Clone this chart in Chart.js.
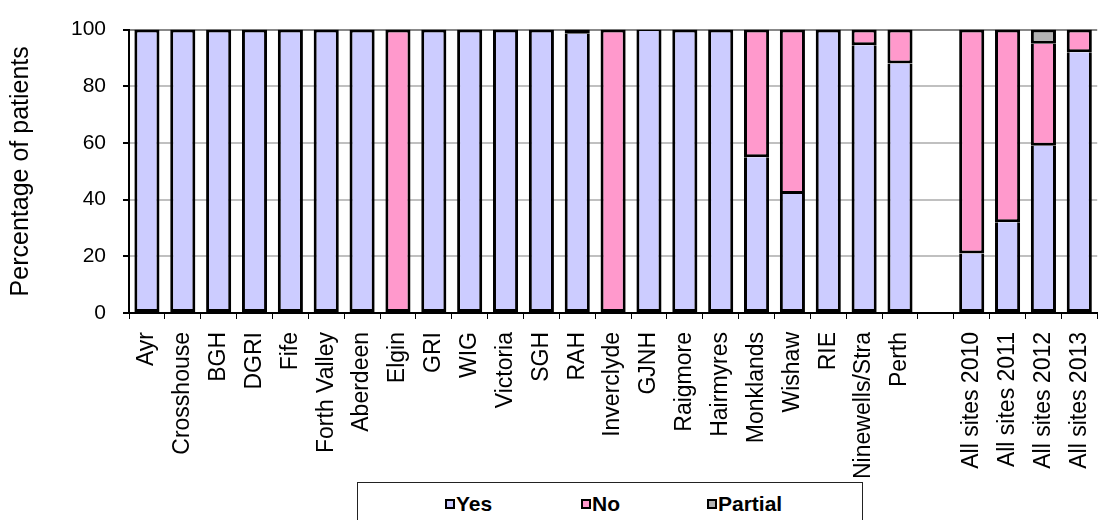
<!DOCTYPE html>
<html>
<head>
<meta charset="utf-8">
<script src="https://cdn.jsdelivr.net/npm/chart.js@4"></script>
<style>
  html, body { margin: 0; padding: 0; background: #fff; overflow: hidden; }
  #wrap { position: relative; width: 1120px; height: 520px; }
  #legend {
    position: absolute; left: 357px; top: 482px; width: 506px; height: 60px;
    border: 1px solid #222; box-sizing: border-box; background: #fff;
    font-family: Arial, "Liberation Sans", sans-serif; font-weight: bold; font-size: 21px;
  }
  #legend .item { position: absolute; top: 9px; line-height: 24px; white-space: nowrap; }
  #legend .box {
    display: inline-block; width: 6px; height: 6px; border: 2px solid #000;
    margin-right: 1px; vertical-align: 2px;
  }
</style>
</head>
<body>
<div id="wrap">
  <canvas id="chart" width="1120" height="520"></canvas>
  <div id="legend"></div>
</div>
<script>
// sites (blank slot separates the yearly totals)
var categories = ['Ayr', 'Crosshouse', 'BGH', 'DGRI', 'Fife', 'Forth Valley', 'Aberdeen', 'Elgin', 'GRI', 'WIG',
    'Victoria', 'SGH', 'RAH', 'Inverclyde', 'GJNH', 'Raigmore', 'Hairmyres', 'Monklands', 'Wishaw', 'RIE',
    'Ninewells/Stra', 'Perth', '', 'All sites 2010', 'All sites 2011', 'All sites 2012', 'All sites 2013'];

var yesData = [100, 100, 100, 100, 100, 100, 100, null, 100, 100,
    100, 100, 98.5, null, 99.5, 100, 100, 55, 42, 100,
    94.5, 88, null, 21, 32, 59, 92];
var noData = [null, null, null, null, null, null, null, 100, null, null,
    null, null, 1.5, 100, 0.5, null, null, 45, 58, null,
    5.5, 12, null, 79, 68, 36, 8];
var partialData = [null, null, null, null, null, null, null, null, null, null,
    null, null, null, null, null, null, null, null, null, null,
    null, null, null, null, null, 5, null];

var yTicks = [0, 20, 40, 60, 80, 100];
var seriesLabels = ['Yes', 'No', 'Partial'];
var seriesColors = ['#ccccff', '#ff99cc', '#b2b2b2'];
var stack = [yesData, noData, partialData];

var font = 'Arial, "Liberation Sans", sans-serif';

// true when some segment sits on top of this one
function hasAbove(i, idx) {
    for (var k = i + 1; k < stack.length; k++) {
        if (stack[k][idx]) return true;
    }
    return false;
}

function makeSet(i, data) {
    return {
        label: seriesLabels[i],
        data: data,
        backgroundColor: seriesColors[i],
        borderColor: '#000',
        // no outline for empty segments, otherwise a stub shows at the base
        borderWidth: function (c) { return c.raw ? 3 : 0; },
        // single dividing line between stacked segments
        borderSkipped: function (c) { return hasAbove(i, c.dataIndex) ? 'top' : false; },
        inflateAmount: 0,
        categoryPercentage: 1,
        barPercentage: 0.7
    };
}

var ctx = document.getElementById('chart').getContext('2d');
var myChart = new Chart(ctx, {
    type: 'bar',
    data: {
        labels: categories,
        datasets: [makeSet(0, yesData), makeSet(1, noData), makeSet(2, partialData)]
    },
    options: {
        responsive: false,
        animation: false,
        layout: { padding: { top: 21, right: 6, bottom: 0, left: 0 } },
        scales: {
            x: {
                stacked: true,
                grid: { drawOnChartArea: false, tickColor: '#000', tickLength: 6, lineWidth: 1 },
                border: { color: '#000', width: 2 },
                ticks: {
                    color: '#000', font: { family: font, size: 23 },
                    minRotation: 90, maxRotation: 90, autoSkip: false, padding: 13
                },
                afterFit: function (s) { s.height = 207; }
            },
            y: {
                stacked: true,
                min: 0,
                max: 100,
                afterBuildTicks: function (s) { s.ticks = yTicks.map(function (v) { return { value: v }; }); },
                grid: {
                    color: function (c) { return c.tick && c.tick.value === 100 ? '#888' : '#c0c0c0'; },
                    lineWidth: 2, tickColor: '#000', tickLength: 6
                },
                border: { color: '#000', width: 2 },
                ticks: { color: '#000', font: { family: font, size: 21 }, padding: 17 },
                title: {
                    display: true, text: 'Percentage of patients', color: '#000',
                    font: { family: font, size: 25 }, padding: { top: 6, bottom: 0 }
                },
                afterFit: function (s) { s.width = 129; }
            }
        },
        plugins: {
            legend: { display: false },
            tooltip: { enabled: false }
        }
    }
});

// boxed legend under the axis, like the original
var legendX = [87, 223, 349];
var legendEl = document.getElementById('legend');
seriesLabels.forEach(function (name, i) {
    var item = document.createElement('div');
    item.className = 'item';
    item.style.left = legendX[i] + 'px';
    item.innerHTML = '<span class="box" style="background:' + seriesColors[i] + '"></span>' + name;
    legendEl.appendChild(item);
});
</script>
</body>
</html>
